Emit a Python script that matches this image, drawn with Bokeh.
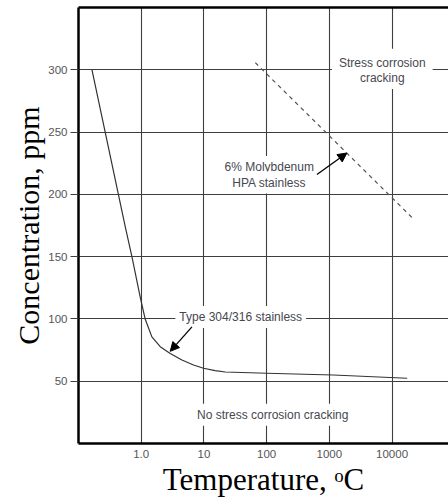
from bokeh.plotting import figure
from bokeh.models import (Range1d, FixedTicker, LogAxis, Label, Arrow, NormalHead,
                          NumeralTickFormatter)
from bokeh.embed import file_html
from bokeh.resources import INLINE

# ---- data ----
type304_temp = [0.164, 0.556, 0.711, 0.964, 1.16, 1.48, 2.01, 2.90, 4.46, 6.82,
                9.86, 15.1, 21.9, 100, 1150, 17400]
type304_conc = [300, 174, 150, 117.5, 99.7, 85.6, 77.7, 72.3, 67.0, 63.0,
                60.4, 58.5, 57.4, 56.4, 55, 52.4]

moly_temp = [66, 20900]
moly_conc = [305.7, 181.3]

x_tick_values = [1, 10, 100, 1000, 10000]
x_tick_labels = ["1.0", "10", "100", "1000", "10000"]
y_tick_values = [50, 100, 150, 200, 250, 300]

GRID = "#3e3e3e"
TXT = "#474750"
FONT = "Liberation Sans"

p = figure(width=448, height=499, x_axis_type="log",
           x_range=Range1d(0.1, 10 ** 4.9), y_range=Range1d(0, 350),
           output_backend="svg", toolbar_location=None,
           min_border_left=78, min_border_right=0, min_border_top=7,
           min_border_bottom=53)
p.outline_line_color = None
p.background_fill_color = "white"
p.border_fill_color = "white"

# axes
xa = p.xaxis[0]
xa.ticker = FixedTicker(ticks=x_tick_values)
xa.formatter = NumeralTickFormatter(format="0")
xa.major_label_overrides = dict(zip(x_tick_values, x_tick_labels))
xa.major_tick_out = 0
xa.major_tick_in = 0
xa.minor_tick_out = 0
xa.minor_tick_in = 0
xa.major_label_standoff = 6
xa.axis_line_width = 2.5
xa.axis_line_color = "black"
xa.major_label_text_font = FONT
xa.major_label_text_font_size = "11.5px"
xa.major_label_text_color = "#555555"
xa.axis_label = "Temperature, \u1d52C"
xa.axis_label_text_font = "Liberation Serif"
xa.axis_label_text_font_style = "normal"
xa.axis_label_text_font_size = "31px"
xa.axis_label_text_color = "black"
xa.axis_label_standoff = 1

ya = p.yaxis[0]
ya.ticker = FixedTicker(ticks=y_tick_values)
ya.major_tick_out = 8
ya.major_tick_in = 0
ya.minor_tick_out = 0
ya.minor_tick_in = 0
ya.major_tick_line_color = GRID
ya.major_label_standoff = 3
ya.axis_line_width = 2.5
ya.axis_line_color = "black"
ya.major_label_text_font = FONT
ya.major_label_text_font_size = "11.5px"
ya.major_label_text_color = "#555555"
ya.axis_label = "Concentration, ppm"
ya.axis_label_text_font = "Liberation Serif"
ya.axis_label_text_font_style = "normal"
ya.axis_label_text_font_size = "30px"
ya.axis_label_text_color = "black"
ya.axis_label_standoff = 0

top = LogAxis(ticker=FixedTicker(ticks=[]), axis_line_width=2.5, axis_line_color="black",
              major_label_text_font_size="0px", major_tick_line_color=None,
              minor_tick_line_color=None)
p.add_layout(top, "above")

p.xgrid.ticker = FixedTicker(ticks=x_tick_values)
p.ygrid.ticker = FixedTicker(ticks=y_tick_values)
for g in (p.xgrid[0], p.ygrid[0]):
    g.grid_line_color = GRID
    g.grid_line_width = 1.1
    g.grid_line_alpha = 1.0

# curves
p.line(type304_temp, type304_conc, line_color="#333333", line_width=1.2,
       line_join="round")
p.line(moly_temp, moly_conc, line_color="#555555", line_width=1.2, line_dash="4 4")

# annotations
def lab(x, y, text, pad=4, bg=True):
    l = Label(x=x, y=y, text=text, text_align="center", text_baseline="middle",
              text_font=FONT, text_font_size="12px", text_color=TXT, padding=pad)
    if bg:
        l.background_fill_color = "white"
    p.add_layout(l)

lab(38.6, 101.6, "Type 304/316 stainless")
lab(110, 222, "6% Molybdenum")
lab(110, 209.5, "HPA stainless")
lab(6980, 305.7, "Stress corrosion", pad=7)
lab(6980, 293.5, "cracking")
lab(125, 23.1, "No stress corrosion cracking")

p.add_layout(Arrow(x_start=6.44, y_start=93.6, x_end=2.9, y_end=74.0,
                   line_color="black", line_width=1.3,
                   end=NormalHead(size=9, fill_color="black", line_color="black")))
p.add_layout(Arrow(x_start=634, y_start=215.9, x_end=1905, y_end=233.2,
                   line_color="black", line_width=1.3,
                   end=NormalHead(size=9, fill_color="black", line_color="black")))

open("out.html", "w").write(file_html(p, INLINE))
